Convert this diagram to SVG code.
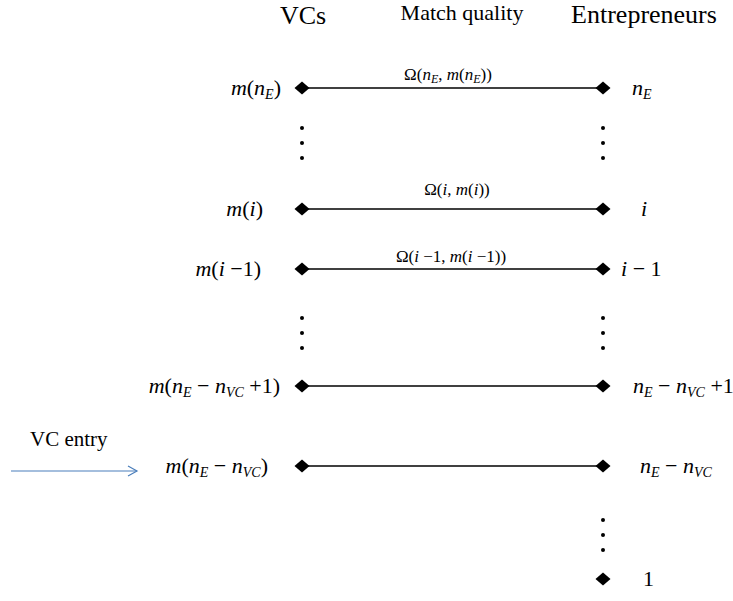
<svg xmlns="http://www.w3.org/2000/svg" width="733" height="601" viewBox="0 0 733 601">
<defs>
<style>
.hdr{font-family:"Liberation Serif","Times New Roman",serif;font-size:26px;fill:#000}
.hdr2{font-family:"Liberation Serif","Times New Roman",serif;font-size:22px;fill:#000}
.ent{font-family:"Liberation Serif","Times New Roman",serif;font-size:21px;fill:#000}
.m{font-family:"Liberation Serif","Times New Roman",serif;font-size:22px;fill:#000}
.q{font-family:"Liberation Serif","Times New Roman",serif;font-size:17px;fill:#000}
.i{font-style:italic}
.s{font-size:14px;font-style:italic}
.q .s{font-size:12px}
.edge{stroke:#000;stroke-width:1.6;fill:none}
.dot{fill:#000}
</style>
<path id="dm" d="M-7.5,0 L0,-6.5 L7.5,0 L0,6.5 Z" fill="#000"/>
<g id="dots"><circle cx="0" cy="0" r="2"/><circle cx="0" cy="15" r="2"/><circle cx="0" cy="30" r="2"/></g>
<marker id="arr" markerWidth="12" markerHeight="12" refX="10" refY="6" orient="auto" markerUnits="userSpaceOnUse">
<path d="M1,1 L10,6 L1,11" fill="none" stroke="#4a7ebb" stroke-width="1.2"/>
</marker>
</defs>

<g id="headers">
<text class="hdr" x="303" y="24" text-anchor="middle">VCs</text>
<text class="hdr2" x="462" y="20" text-anchor="middle">Match quality</text>
<text class="hdr" x="644" y="23" text-anchor="middle">Entrepreneurs</text>
</g>

<g id="connectors">
<line class="edge" x1="302" y1="88" x2="603" y2="88"/>
<line class="edge" x1="302" y1="209" x2="603" y2="209"/>
<line class="edge" x1="302" y1="269" x2="603" y2="269"/>
<line class="edge" x1="302" y1="386" x2="603" y2="386"/>
<line class="edge" x1="302" y1="466" x2="603" y2="466"/>
<line x1="11" y1="471" x2="137" y2="471" stroke="#4a7ebb" stroke-width="1.2" marker-end="url(#arr)"/>
</g>

<g id="row-nE">
<use href="#dm" x="302" y="88"/><use href="#dm" x="603" y="88"/>
<text class="m" x="281" y="95" text-anchor="end"><tspan class="i">m</tspan>(<tspan class="i">n</tspan><tspan class="s" dy="4">E</tspan><tspan dy="-4">)</tspan></text>
<text class="m" x="632" y="95"><tspan class="i">n</tspan><tspan class="s" dy="4">E</tspan></text>
<text class="q" x="448" y="80" text-anchor="middle">Ω(<tspan class="i">n</tspan><tspan class="s" dy="3">E</tspan><tspan dy="-3">, </tspan><tspan class="i">m</tspan>(<tspan class="i">n</tspan><tspan class="s" dy="3">E</tspan><tspan dy="-3">))</tspan></text>
</g>

<g id="dots-1" class="dot"><use href="#dots" x="302" y="128"/><use href="#dots" x="603" y="128"/></g>

<g id="row-i">
<use href="#dm" x="302" y="209"/><use href="#dm" x="603" y="209"/>
<text class="m" x="263" y="216" text-anchor="end"><tspan class="i">m</tspan>(<tspan class="i">i</tspan>)</text>
<text class="m" x="641" y="216"><tspan class="i">i</tspan></text>
<text class="q" x="457" y="195" text-anchor="middle">Ω(<tspan class="i">i</tspan>, <tspan class="i">m</tspan>(<tspan class="i">i</tspan>))</text>
</g>

<g id="row-i1">
<use href="#dm" x="302" y="269"/><use href="#dm" x="603" y="269"/>
<text class="m" x="261" y="276" text-anchor="end"><tspan class="i">m</tspan>(<tspan class="i">i</tspan> −1)</text>
<text class="m" x="621" y="276"><tspan class="i">i</tspan> − 1</text>
<text class="q" x="451" y="262" text-anchor="middle">Ω(<tspan class="i">i</tspan> −1, <tspan class="i">m</tspan>(<tspan class="i">i</tspan> −1))</text>
</g>

<g id="dots-2" class="dot"><use href="#dots" x="302" y="318"/><use href="#dots" x="603" y="318"/></g>

<g id="row-nEnVC1">
<use href="#dm" x="302" y="386"/><use href="#dm" x="603" y="386"/>
<text class="m" x="280" y="393" text-anchor="end"><tspan class="i">m</tspan>(<tspan class="i">n</tspan><tspan class="s" dy="4">E</tspan><tspan dy="-4"> − </tspan><tspan class="i">n</tspan><tspan class="s" dy="4">VC</tspan><tspan dy="-4"> +1)</tspan></text>
<text class="m" x="633" y="393"><tspan class="i">n</tspan><tspan class="s" dy="4">E</tspan><tspan dy="-4"> − </tspan><tspan class="i">n</tspan><tspan class="s" dy="4">VC</tspan><tspan dy="-4"> +1</tspan></text>
</g>

<g id="row-nEnVC">
<use href="#dm" x="302" y="466"/><use href="#dm" x="603" y="466"/>
<text class="m" x="268" y="473" text-anchor="end"><tspan class="i">m</tspan>(<tspan class="i">n</tspan><tspan class="s" dy="4">E</tspan><tspan dy="-4"> − </tspan><tspan class="i">n</tspan><tspan class="s" dy="4">VC</tspan><tspan dy="-4">)</tspan></text>
<text class="m" x="640" y="473"><tspan class="i">n</tspan><tspan class="s" dy="4">E</tspan><tspan dy="-4"> − </tspan><tspan class="i">n</tspan><tspan class="s" dy="4">VC</tspan></text>
</g>

<g id="vc-entry">
<text class="ent" x="30" y="446">VC entry</text>
</g>

<g id="dots-3" class="dot"><use href="#dots" x="603" y="520"/></g>

<g id="row-1">
<use href="#dm" x="603" y="579"/>
<text class="m" x="643" y="586">1</text>
</g>
</svg>
